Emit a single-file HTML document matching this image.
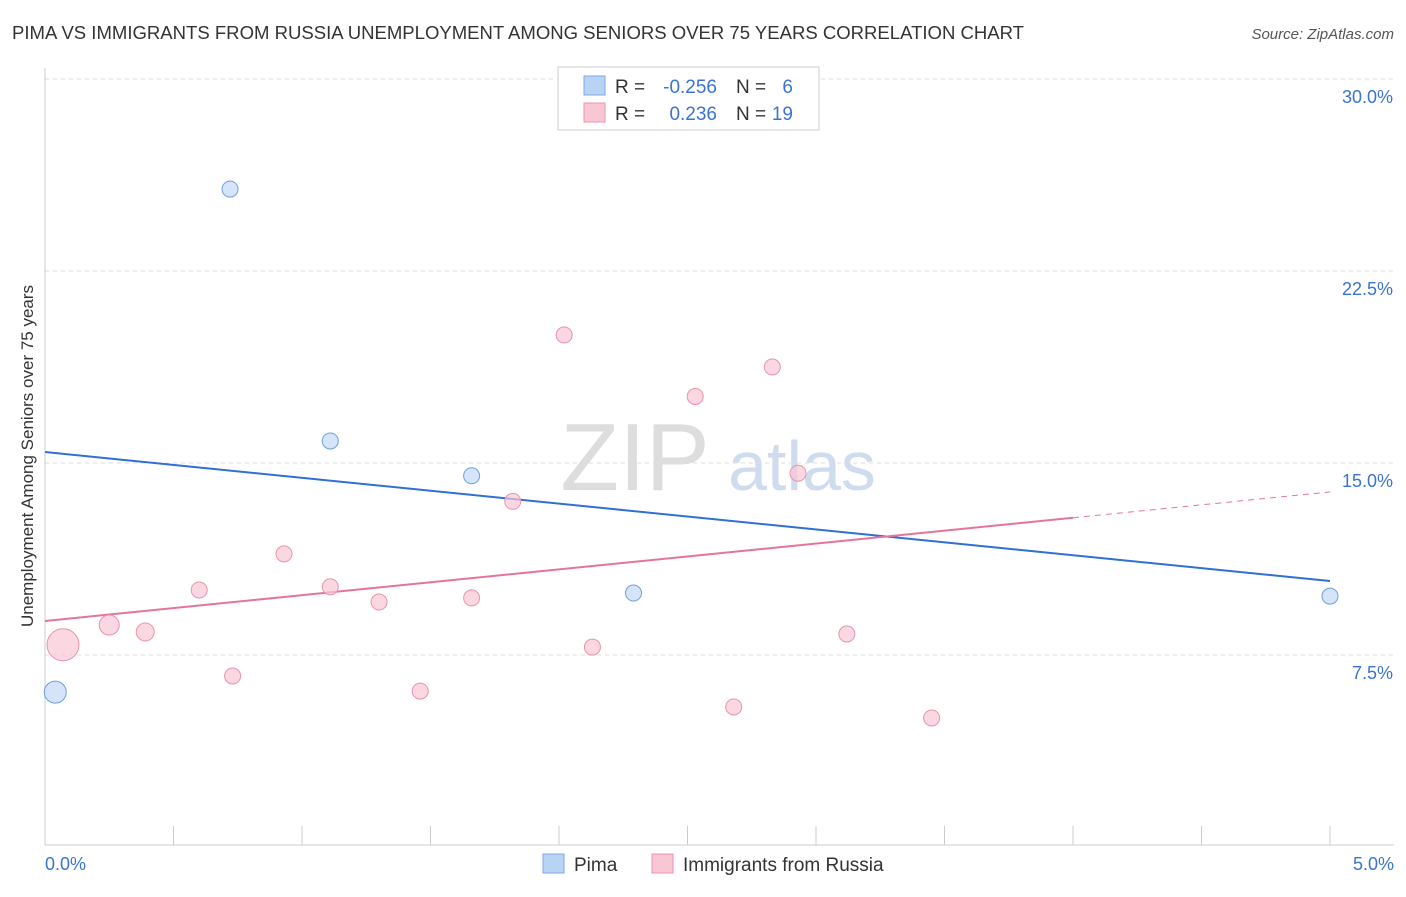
<!DOCTYPE html>
<html><head><meta charset="utf-8"><style>
body{margin:0;background:#fff;font-family:"Liberation Sans",sans-serif;}
svg text{font-family:"Liberation Sans",sans-serif;}
</style></head><body>
<svg id="chart" width="1406" height="892" xmlns="http://www.w3.org/2000/svg">
<text x="12" y="39" font-size="18" fill="#333" textLength="1012" lengthAdjust="spacingAndGlyphs">PIMA VS IMMIGRANTS FROM RUSSIA UNEMPLOYMENT AMONG SENIORS OVER 75 YEARS CORRELATION CHART</text>
<text x="1394" y="39" font-size="15" fill="#555" text-anchor="end" font-style="italic">Source: ZipAtlas.com</text>
<text transform="translate(33,456) rotate(-90)" font-size="17" fill="#333" text-anchor="middle">Unemployment Among Seniors over 75 years</text>
<g>
<text x="635" y="490" font-size="96" fill="#ddd" text-anchor="middle" font-family="Liberation Serif">ZIP</text>
<text x="802" y="490" font-size="70" fill="#cfdcf0" text-anchor="middle">atlas</text>
</g>
<g id="grid"></g><g id="axes"></g><g id="lines"></g><g id="points"></g>
<g>
<rect x="558" y="67" width="261" height="63" fill="#fff" stroke="#ccc"/>
<rect x="584" y="76" width="21" height="19" fill="#b9d3f5" stroke="#7ea9e3"/>
<rect x="584" y="103" width="21" height="19" fill="#f9c6d4" stroke="#eb94ae"/>
<text x="615" y="93" font-size="19" fill="#333">R =</text>
<text x="717" y="93" font-size="19" fill="#3a74d0" text-anchor="end">-0.256</text>
<text x="736" y="93" font-size="19" fill="#333">N =</text>
<text x="793" y="93" font-size="19" fill="#3a74d0" text-anchor="end">6</text>
<text x="615" y="120" font-size="19" fill="#333">R =</text>
<text x="717" y="120" font-size="19" fill="#3a74d0" text-anchor="end">0.236</text>
<text x="736" y="120" font-size="19" fill="#333">N =</text>
<text x="793" y="120" font-size="19" fill="#3a74d0" text-anchor="end">19</text>
</g>
<g>
<rect x="543" y="854" width="21" height="19" fill="#b9d3f5" stroke="#7ea9e3"/>
<text x="574" y="871" font-size="19" fill="#333">Pima</text>
<rect x="652" y="854" width="21" height="19" fill="#f9c6d4" stroke="#eb94ae"/>
<text x="683" y="871" font-size="19" fill="#333">Immigrants from Russia</text>
</g>
</svg>
<script>
const yTicks=[7.5,15.0,22.5,30.0];
const xTickLabels=["0.0%","5.0%"];
const pimaX=[0.04,0.72,1.11,1.66,2.29,5.0];
const pimaY=[6.05,25.7,15.86,14.5,9.92,9.8];
const pimaR=[11,8,8,8,8,8];
const rusX=[0.07,0.25,0.39,0.6,0.73,0.93,1.11,1.3,1.46,1.66,1.82,2.02,2.13,2.53,2.68,2.83,2.93,3.12,3.45];
const rusY=[7.9,8.67,8.4,10.04,6.68,11.45,10.16,9.57,6.09,9.73,13.5,20.0,7.81,17.6,5.47,18.75,14.6,8.32,5.04];
const rusR=[16,10,9,8,8,8,8,8,8,8,8,8,8,8,8,8,8,8,8];
const pimaTrend=[15.43,10.39];
const rusTrend=[8.83,13.87];
const rusSolidEnd=4.0;
const NS="http://www.w3.org/2000/svg";
const X=v=>45+v*257, Y=v=>847-v*25.6;
function mk(t,a,p){const e=document.createElementNS(NS,t);for(const k in a)e.setAttribute(k,a[k]);p.appendChild(e);return e;}
const grid=document.getElementById('grid'),axes=document.getElementById('axes'),lines=document.getElementById('lines'),pts=document.getElementById('points');
yTicks.forEach(t=>{
 const l=mk('line',{x1:45,x2:1394,y1:Y(t),y2:Y(t),stroke:'#ddd','stroke-dasharray':'4,4'},grid);
 
 
 const tx=mk('text',{x:1393,y:Y(t)+24,'font-size':18,fill:'#3a74d0','text-anchor':'end'},axes);
 tx.textContent=t.toFixed(1)+'%';
 
 
});
const topLine=mk('line',{x1:45,x2:1394,y1:79,y2:79,stroke:'#ddd','stroke-dasharray':'4,4'},grid);


const xa=mk('line',{x1:45,x2:1394,y1:845,y2:845,stroke:'#ccc'},axes);


const ya=mk('line',{x1:45,x2:45,y1:68,y2:845,stroke:'#ccc'},axes);


for(let i=0;i<=10;i++){const t=mk('line',{x1:X(i*0.5),x2:X(i*0.5),y1:826,y2:845,stroke:'#ccc'},axes);
 
 }
[[45,'start',0],[1394,'end',1]].forEach(([x,a,i])=>{const t=mk('text',{x:x,y:870,'font-size':18,fill:'#3a74d0','text-anchor':a},axes);t.textContent=xTickLabels[i];
 
 });
function pt(xs,ys,rs,fill,stroke,name){xs.forEach((x,i)=>{const c=mk('circle',{cx:X(x),cy:Y(ys[i]),r:rs[i],fill:fill,stroke:stroke,'stroke-width':1,'fill-opacity':0.7},pts);
 
 });}
pt(rusX,rusY,rusR,'#f9c6d4','#e893ab','russia-point');
pt(pimaX,pimaY,pimaR,'#c3d8f5','#6f9fe0','pima-point');
const bl=mk('line',{x1:X(0),y1:Y(pimaTrend[0]),x2:X(5),y2:Y(pimaTrend[1]),stroke:'#2f6fd6','stroke-width':2},lines);


const rAt=v=>rusTrend[0]+(rusTrend[1]-rusTrend[0])*v/5;
const rl=mk('line',{x1:X(0),y1:Y(rusTrend[0]),x2:X(rusSolidEnd),y2:Y(rAt(rusSolidEnd)),stroke:'#e6739a','stroke-width':2},lines);


const rd=mk('line',{x1:X(rusSolidEnd),y1:Y(rAt(rusSolidEnd)),x2:X(5),y2:Y(rusTrend[1]),stroke:'#e6739a','stroke-width':1,'stroke-dasharray':'6,5'},lines);


</script>
</body></html>
